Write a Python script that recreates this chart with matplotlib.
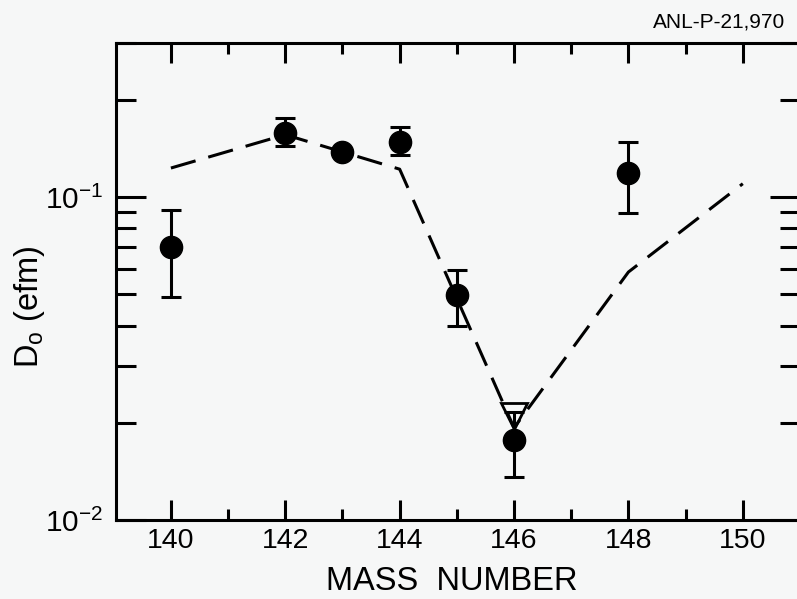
import matplotlib
matplotlib.use('Agg')
import matplotlib.pyplot as plt
from matplotlib import font_manager
from matplotlib.ticker import LogLocator, NullFormatter, FixedLocator

# measured D0 values with error limits
mass = [140, 142, 143, 144, 145, 146, 148]
d0 = [0.070, 0.158, 0.138, 0.148, 0.0497, 0.0177, 0.119]
d0_hi = [0.091, 0.176, 0.138, 0.165, 0.0594, 0.0216, 0.148]
d0_lo = [0.049, 0.144, 0.138, 0.135, 0.040, 0.0136, 0.089]

# open triangle at 146
tri_mass = [146]
tri_d0 = [0.021]

# dashed calculation
calc_mass = [140, 142, 144, 146, 148, 150]
calc_d0 = [0.123, 0.156, 0.122, 0.0193, 0.0586, 0.110]

names = {f.name for f in font_manager.fontManager.ttflist}
FONT = 'Liberation Sans Narrow' if 'Liberation Sans Narrow' in names else 'Liberation Sans'
narrow = FONT == 'Liberation Sans Narrow'

plt.rcParams['font.family'] = [FONT, 'DejaVu Sans']
plt.rcParams['mathtext.fontset'] = 'custom'
plt.rcParams['mathtext.rm'] = FONT
plt.rcParams['mathtext.it'] = FONT
plt.rcParams['mathtext.default'] = 'regular'
plt.rcParams['lines.scale_dashes'] = False

# sizes: the reference uses a condensed face, so shrink when only the wide one exists
tick_fs = 23 if narrow else 20.5
label_fs = 27 if narrow else 23.5
tag_fs = 18 if narrow else 15

bg = '#f6f7f7'
fig = plt.figure(figsize=(7.97, 5.99), dpi=100, facecolor=bg)
ax = fig.add_axes([116 / 797, 1 - 520 / 599, 684 / 797, 477 / 599], facecolor=bg)

ax.plot(calc_mass, calc_d0, color='black', linewidth=2.2, dashes=(18.5, 9.5),
        dash_capstyle='butt', zorder=2)

yerr = [[v - lo for v, lo in zip(d0, d0_lo)], [hi - v for v, hi in zip(d0, d0_hi)]]
ax.errorbar(mass, d0, yerr=yerr, fmt='o', color='black', markersize=16,
            elinewidth=2.2, capsize=7, capthick=2.2, zorder=3)
ax.plot(tri_mass, tri_d0, 'v', markersize=19, markerfacecolor='none',
        markeredgecolor='black', markeredgewidth=2.0, zorder=4)

ax.set_yscale('log')
ax.set_xlim(139.04, 151.0)
ax.set_ylim(0.01, 0.3)

ax.set_xticks([140, 142, 144, 146, 148, 150])
ax.set_xticks([141, 143, 145, 147, 149, 151], minor=True)
ax.set_xticklabels(['140', '142', '144', '146', '148', '150'])

ax.yaxis.set_major_locator(FixedLocator([0.01, 0.1]))
ax.yaxis.set_minor_locator(LogLocator(base=10, subs=range(2, 10)))
ax.yaxis.set_minor_formatter(NullFormatter())
ax.set_yticklabels(['$10^{-2}$', '$10^{-1}$'])

ax.tick_params(axis='x', which='major', direction='in', length=14.4, width=2.2,
               top=True, bottom=True, labelsize=tick_fs, pad=6)
ax.tick_params(axis='x', which='minor', direction='in', length=8, width=2.2,
               top=True, bottom=True)
ax.tick_params(axis='y', which='major', direction='in', length=21.6, width=2.2,
               left=True, right=True, labelsize=tick_fs + 1, pad=9)
ax.tick_params(axis='y', which='minor', direction='in', length=14.4, width=2.2,
               left=True, right=True)

for s in ax.spines.values():
    s.set_linewidth(2.2)

fig.text(452 / 797, 1 - 590 / 599, 'MASS  NUMBER', fontsize=label_fs,
         ha='center', va='baseline')
fig.text(30 / 797, 1 - 307 / 599, 'D$_{o}$ (efm)', fontsize=label_fs, rotation=90,
         ha='center', va='center')
fig.text(785 / 797, 1 - 22 / 599, 'ANL-P-21,970', fontsize=tag_fs, ha='right', va='center')

plt.savefig('out.png', dpi=100, facecolor=bg)
